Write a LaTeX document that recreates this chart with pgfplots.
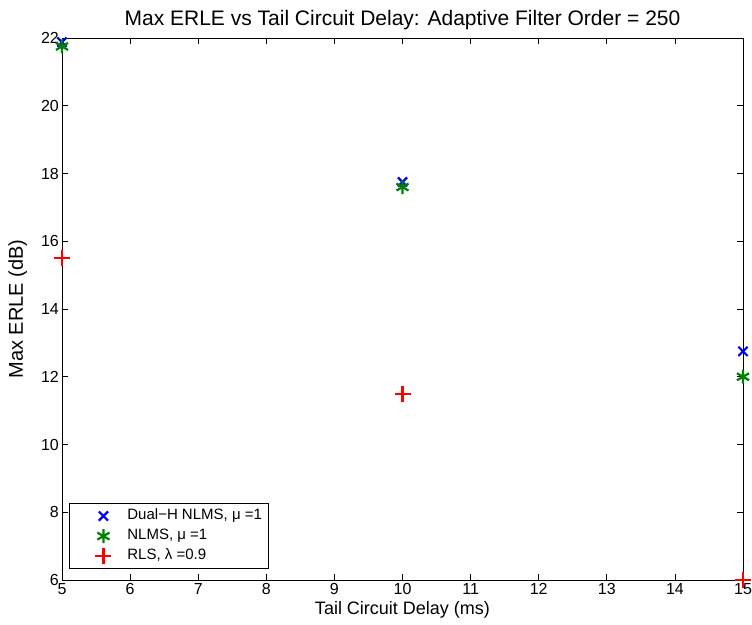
\documentclass[border=0pt]{standalone}
\usepackage{pgfplots}
\pgfplotsset{compat=1.18}
\usepackage{fontspec}
\setmainfont{Liberation Sans}
\definecolor{mgreen}{rgb}{0,0.5,0}
\begin{document}
\begin{tikzpicture}
\useasboundingbox (-62pt,-44pt) rectangle (690pt,580pt);
\begin{axis}[
  at={(0pt,0pt)}, anchor=south west,
  scale only axis,
  width=681pt, height=542pt,
  xmin=5, xmax=15, ymin=6, ymax=22,
  xtick={5,6,...,15}, ytick={6,8,...,22},
  tick align=inside,
  major tick length=6pt,
  tick style={black, line width=0.7pt},
  axis line style={line width=0.8pt},
  every tick label/.append style={font=\fontsize{16}{18}\selectfont},
  xticklabel style={text depth=0pt},
  yticklabel style={inner xsep=3pt},
  /pgf/number format/assume math mode=true,
  title={Max ERLE vs Tail Circuit Delay: Adaptive Filter Order = 250},
  title style={at={(axis description cs:0.5,1)}, anchor=base, yshift=6pt, font=\fontsize{21}{24}\selectfont},
  xlabel={Tail Circuit Delay (ms)},
  ylabel={Max ERLE (dB)},
  xlabel style={at={(axis description cs:0.5,0)}, anchor=base, yshift=-34pt, font=\fontsize{18}{21}\selectfont},
  ylabel style={at={(axis description cs:0,0.5)}, rotate=0, anchor=base, yshift=39pt, font=\fontsize{20}{23}\selectfont},
  clip=false,
  legend image code/.code={\path[draw=none,fill=none] (0pt,-7pt) rectangle (52pt,7pt); \draw[#1] plot coordinates {(31pt,0pt)};},
  legend style={at={(axis description cs:0.0103,0.0203)}, anchor=south west, font=\fontsize{15}{17}\selectfont, draw=black, line width=0.8pt, inner xsep=3pt, inner ysep=2.5pt, row sep=0pt,
    nodes={text height=11pt, text depth=4pt, inner ysep=2.5pt, inner xsep=3pt}},
  legend cell align=left,
]
\addplot[only marks, mark=x, mark size=6.5pt, blue, line width=2.2pt] coordinates {(5,21.88) (10,17.75) (15,12.75)};
\addlegendentry{Dual−H NLMS, μ =1}
\addplot[only marks, mark=asterisk, mark size=7pt, mgreen, line width=2.2pt] coordinates {(5,21.75) (10,17.6) (15,12.0)};
\addlegendentry{NLMS, μ =1}
\addplot[only marks, mark=+, mark size=8pt, red, line width=2.2pt] coordinates {(5,15.5) (10,11.5) (15,6.0)};
\addlegendentry{RLS, λ =0.9}
\end{axis}
\end{tikzpicture}
\end{document}
